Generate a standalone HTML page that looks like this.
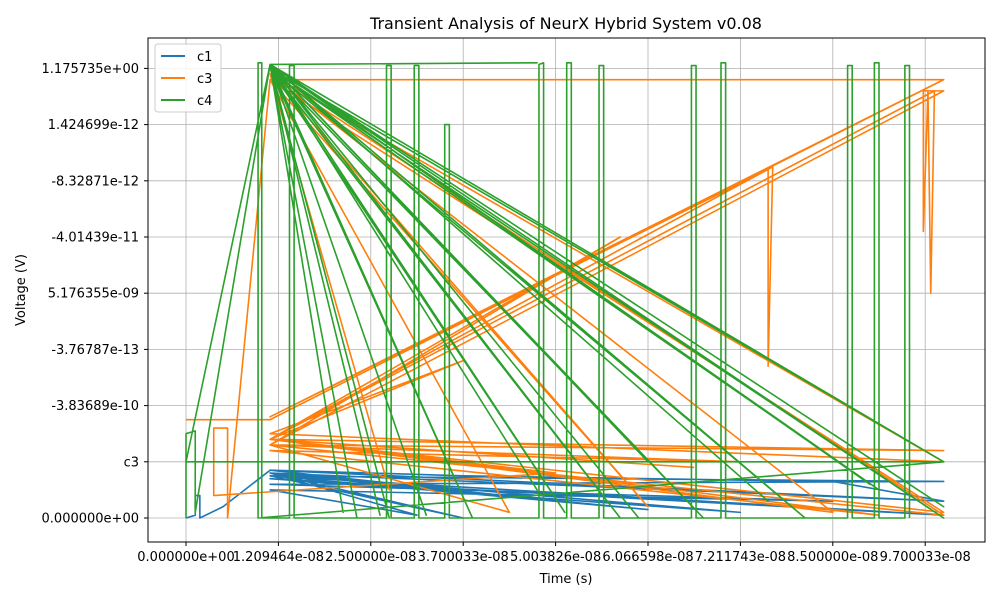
<!DOCTYPE html>
<html><head><meta charset="utf-8">
<style>
body{margin:0;background:#fff;font-family:"Liberation Sans","DejaVu Sans",sans-serif;}
svg text{font-family:"DejaVu Sans","Liberation Sans",sans-serif;}
</style></head>
<body>
<svg id="chart" width="1000" height="600">
<rect width="1000" height="600" fill="#fff"/>
<text x="566" y="29" text-anchor="middle" font-size="16">Transient Analysis of NeurX Hybrid System v0.08</text>
<g id="grid"></g>
<g id="series"></g>
<rect x="148" y="38" width="837" height="504" fill="none" stroke="#000" stroke-width="1"/>
<g id="axes"></g>
<text x="566" y="583" text-anchor="middle" font-size="13">Time (s)</text>
<text transform="translate(25,290) rotate(-90)" text-anchor="middle" font-size="13">Voltage (V)</text>
<g>
<rect x="155" y="44" width="66" height="68" fill="#fff" fill-opacity="0.85" stroke="#ccc" rx="3"/>
<line x1="161" y1="56" x2="185" y2="56" stroke="#1f77b4" stroke-width="2"/>
<text x="197" y="61" font-size="13">c1</text>
<line x1="161" y1="78" x2="185" y2="78" stroke="#ff7f0e" stroke-width="2"/>
<text x="197" y="83" font-size="13">c3</text>
<line x1="161" y1="100" x2="185" y2="100" stroke="#2ca02c" stroke-width="2"/>
<text x="197" y="105" font-size="13">c4</text>
</g>
</svg>
<script>
const xTickLabels=["0.000000e+00","1.209464e-08","2.500000e-08","3.700033e-08","5.003826e-08","6.066598e-08","7.211743e-08","8.500000e-08","9.700033e-08"];
const yTickLabels=["0.000000e+00","c3","-3.83689e-10","-3.76787e-13","5.176355e-09","-4.01439e-11","-8.32871e-12","1.424699e-12","1.175735e+00"];
const c1Points=[[0,0],[0.1,0.05],[0.1,0.4],[0.15,0.4],[0.15,0],[0.4,0.2],[0.91,0.85],[2,0.8],[3,0.75],[5,0.7],[7,0.65],[8.2,0.3],[0.91,0.85],[4,0.3],[0.91,0.8],[6,0.1],[0.91,0.7],[8.2,0.05],[0.91,0.75],[3,0],[0.91,0.8],[5,0.15],[0.91,0.75],[8.2,0.65],[0.91,0.6],[7,0.3],[0.91,0.5],[2.5,0.05],[0.91,0.8],[8.2,0.3]];
const c3Points=[[0,1.75],[0.91,1.75],[0.91,1.75],[8.2,7.8],[8.2,7.8],[0.91,7.8],[0.91,7.8],[8.2,7.8],[0.91,1.8],[6.3,6.2],[6.3,2.7],[6.35,6.25],[0.91,1.4],[4.7,5.0],[0.91,1.3],[8.2,7.6],[7.98,7.6],[7.98,5.1],[8.03,7.6],[8.06,4.0],[8.1,7.6],[0.91,1.4],[3,2.8],[0.91,1.5],[8.2,1.0],[0.91,7.9],[2.2,0.5],[0.91,7.9],[5,0.2],[0.91,7.8],[8.2,0.1],[0.91,1.4],[8.2,1.2],[0.91,1.3],[6,1.0],[0.91,1.2],[7.5,0.05],[0.91,1.4],[4,0.8],[0.3,0.4],[0.3,1.6],[0.45,1.6],[0.45,0],[0.91,7.8],[3.5,0.1],[0.91,1.3],[8.2,0.05],[0.91,7.9],[7,0.1],[0.91,1.4],[5.5,0.9]];
const c4Points=[[0,0],[0,1.5],[0.1,1.55],[0.1,0.1],[0.91,8.07],[1.85,0],[0.91,8.07],[2.6,0.05],[0.91,8.07],[3.1,0],[0.91,8.0],[4.7,0],[0.91,8.07],[5.6,0],[0.91,8.0],[6.7,0],[0.91,8.07],[8.2,0],[0.91,8.0],[8.2,1.0],[0.91,8.07],[7.5,0.5],[0.91,8.0],[4.1,0.1],[0.91,8.07],[3.8,0.5],[0.91,8.07],[6.3,0.3],[0.91,8.07],[1.7,0.1],[0.91,8.07],[2.1,0.05],[0.91,8.07],[4.9,0],[0.91,8.07],[8.2,0.2],[0.91,8.07],[5.0,1.0],[0.91,8.07],[7.4,0.6],[0.91,8.07],[3.8,8.1],[0.91,8.07],[2.2,0],[0.91,8.07],[0,1],[8.2,1],[0.78,0],[0.78,8.1],[0.82,8.1],[0.82,0],[1.12,0],[1.12,8.05],[1.17,8.05],[1.17,0],[2.17,0],[2.17,8.05],[2.22,8.05],[2.22,0],[2.47,0],[2.47,8.05],[2.52,8.05],[2.52,0],[2.8,0],[2.8,7.0],[2.85,7.0],[2.85,0],[3.82,0],[3.82,8.07],[3.87,8.1],[3.87,0],[4.12,0],[4.12,8.1],[4.17,8.1],[4.17,0],[4.47,0],[4.47,8.05],[4.52,8.05],[4.52,0],[5.47,0],[5.47,8.05],[5.52,8.05],[5.52,0],[5.79,0],[5.79,8.1],[5.84,8.1],[5.84,0],[7.16,0],[7.16,8.05],[7.21,8.05],[7.21,0],[7.45,0],[7.45,8.1],[7.5,8.1],[7.5,0],[7.78,0],[7.78,8.05],[7.83,8.05],[7.83,0]];
const X0=186,XS=92.4,Y0=518,YS=56.2;
function xs(v){return X0+v*XS;}
function ys(v){return Y0-v*YS;}
const NS="http://www.w3.org/2000/svg";
const grid=document.getElementById('grid'),axes=document.getElementById('axes'),ser=document.getElementById('series');
xTickLabels.forEach((l,i)=>{
 const x=xs(i);
 const g=document.createElementNS(NS,'line');
 g.setAttribute('x1',x);g.setAttribute('x2',x);g.setAttribute('y1',38);g.setAttribute('y2',542);g.setAttribute('stroke','#b0b0b0');g.setAttribute('stroke-width','0.8');
 
 
 grid.appendChild(g);
 const t=document.createElementNS(NS,'line');
 t.setAttribute('x1',x);t.setAttribute('x2',x);t.setAttribute('y1',542);t.setAttribute('y2',546);t.setAttribute('stroke','#000');
 axes.appendChild(t);
 const tx=document.createElementNS(NS,'text');
 tx.setAttribute('x',x);tx.setAttribute('y',561);tx.setAttribute('text-anchor','middle');tx.setAttribute('font-size','13');
 
 
 tx.textContent=l;axes.appendChild(tx);
});
yTickLabels.forEach((l,i)=>{
 const y=ys(i);
 const g=document.createElementNS(NS,'line');
 g.setAttribute('x1',148);g.setAttribute('x2',985);g.setAttribute('y1',y);g.setAttribute('y2',y);g.setAttribute('stroke','#b0b0b0');g.setAttribute('stroke-width','0.8');
 
 
 grid.appendChild(g);
 const t=document.createElementNS(NS,'line');
 t.setAttribute('x1',144);t.setAttribute('x2',148);t.setAttribute('y1',y);t.setAttribute('y2',y);t.setAttribute('stroke','#000');
 axes.appendChild(t);
 const tx=document.createElementNS(NS,'text');
 tx.setAttribute('x',139);tx.setAttribute('y',y+4.5);tx.setAttribute('text-anchor','end');tx.setAttribute('font-size','13');
 
 
 tx.textContent=l;axes.appendChild(tx);
});
function draw(pts,color,name){
 const p=document.createElementNS(NS,'polyline');
 p.setAttribute('points',pts.map(d=>xs(d[0])+','+ys(d[1])).join(' '));
 p.setAttribute('fill','none');p.setAttribute('stroke',color);p.setAttribute('stroke-width','1.6');p.setAttribute('stroke-linejoin','round');
 
 
 ser.appendChild(p);
}
draw(c1Points,'#1f77b4','series-c1');
draw(c3Points,'#ff7f0e','series-c3');
draw(c4Points,'#2ca02c','series-c4');
</script>
</body></html>
